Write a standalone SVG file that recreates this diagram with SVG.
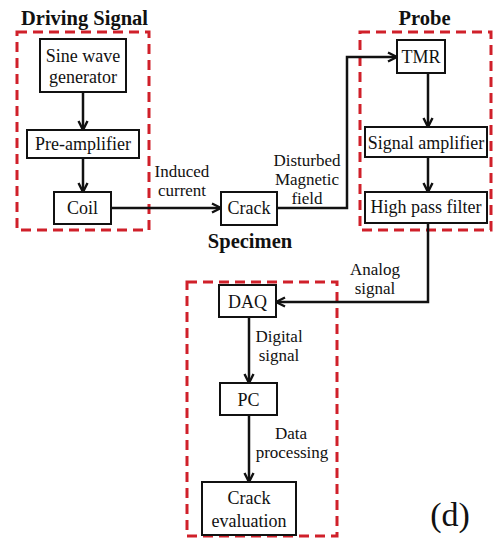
<svg xmlns="http://www.w3.org/2000/svg" width="494" height="539" viewBox="0 0 494 539" font-family="'Liberation Serif', 'DejaVu Serif', serif">
  <style>
    text { font-family: "Liberation Serif", "DejaVu Serif", serif; fill: #111; }
    .lbl { font-size: 18px; text-anchor: middle; }
    .edge { font-size: 17px; text-anchor: middle; }
    .title { font-size: 20.5px; font-weight: bold; text-anchor: middle; }
    .box { fill: #fff; stroke: #111; stroke-width: 2; }
    .group { fill: none; stroke: #d0202a; stroke-width: 3; stroke-dasharray: 10 6; }
    .wire { fill: none; stroke: #111; stroke-width: 2.5; marker-end: url(#arrow); }
  </style>
  <defs>
    <marker id="arrow" viewBox="0 0 12 12" refX="11" refY="6" markerWidth="12" markerHeight="12" markerUnits="userSpaceOnUse" orient="auto">
      <path d="M2,1.5 L11,6 L2,10.5" fill="none" stroke="#111" stroke-width="2.4" stroke-linejoin="miter"/>
    </marker>
  </defs>
  <rect width="494" height="539" fill="#fff"/>

  <!-- dashed grouping frames -->
  <g id="frames">
    <rect class="group" x="17" y="32" width="132" height="198"/>
    <rect class="group" x="360" y="32" width="131" height="198"/>
    <rect class="group" x="187" y="282" width="150" height="254"/>
  </g>

  <!-- section titles -->
  <g id="titles">
    <text class="title" x="84.5" y="25">Driving Signal</text>
    <text class="title" x="424.5" y="25">Probe</text>
    <text class="title" x="250" y="248">Specimen</text>
  </g>

  <!-- connectors -->
  <g id="connectors">
    <line class="wire" x1="83" y1="92" x2="83" y2="130"/>
    <line class="wire" x1="83" y1="158" x2="83" y2="192"/>
    <line class="wire" x1="111" y1="208" x2="221" y2="208"/>
    <path class="wire" d="M277,208 H347 V57 H397"/>
    <line class="wire" x1="428" y1="73" x2="428" y2="127"/>
    <line class="wire" x1="428" y1="157" x2="428" y2="192"/>
    <path class="wire" d="M428,223 V302 H276"/>
    <line class="wire" x1="249" y1="317" x2="249" y2="383"/>
    <line class="wire" x1="249" y1="415" x2="249" y2="482"/>
  </g>

  <!-- connector labels -->
  <g id="edge-labels">
    <text class="edge" x="182" y="177">Induced</text>
    <text class="edge" x="182" y="196">current</text>
    <text class="edge" x="307" y="166">Disturbed</text>
    <text class="edge" x="307" y="185">Magnetic</text>
    <text class="edge" x="307" y="204">field</text>
    <text class="edge" x="375" y="275">Analog</text>
    <text class="edge" x="375" y="294">signal</text>
    <text class="edge" x="279" y="342">Digital</text>
    <text class="edge" x="279" y="361">signal</text>
    <text class="edge" x="291" y="439">Data</text>
    <text class="edge" x="292" y="458">processing</text>
  </g>

  <g id="sine">
    <rect class="box" x="40" y="39" width="86" height="53"/>
    <text class="lbl" x="83" y="62">Sine wave</text>
    <text class="lbl" x="83" y="83">generator</text>
  </g>
  <g id="preamp">
    <rect class="box" x="27" y="130" width="112" height="28"/>
    <text class="lbl" x="83" y="150">Pre-amplifier</text>
  </g>
  <g id="coil">
    <rect class="box" x="54" y="192" width="57" height="32"/>
    <text class="lbl" x="82.5" y="214">Coil</text>
  </g>
  <g id="crack">
    <rect class="box" x="221" y="192" width="56" height="33"/>
    <text class="lbl" x="249" y="214">Crack</text>
  </g>
  <g id="tmr">
    <rect class="box" x="397" y="40" width="48" height="33"/>
    <text class="lbl" x="421" y="63">TMR</text>
  </g>
  <g id="sigamp">
    <rect class="box" x="365" y="127" width="122" height="30"/>
    <text class="lbl" x="426" y="149">Signal amplifier</text>
  </g>
  <g id="hpf">
    <rect class="box" x="365" y="192" width="122" height="31"/>
    <text class="lbl" x="426" y="213">High pass filter</text>
  </g>
  <g id="daq">
    <rect class="box" x="219" y="285" width="57" height="32"/>
    <text class="lbl" x="247.5" y="308">DAQ</text>
  </g>
  <g id="pc">
    <rect class="box" x="220" y="383" width="57" height="32"/>
    <text class="lbl" x="248.5" y="406">PC</text>
  </g>
  <g id="evaluation">
    <rect class="box" x="202" y="482" width="94" height="53"/>
    <text class="lbl" x="249" y="504">Crack</text>
    <text class="lbl" x="249" y="527">evaluation</text>
  </g>

  <text x="450" y="526" style="font-size:34px;text-anchor:middle">(d)</text>
</svg>
